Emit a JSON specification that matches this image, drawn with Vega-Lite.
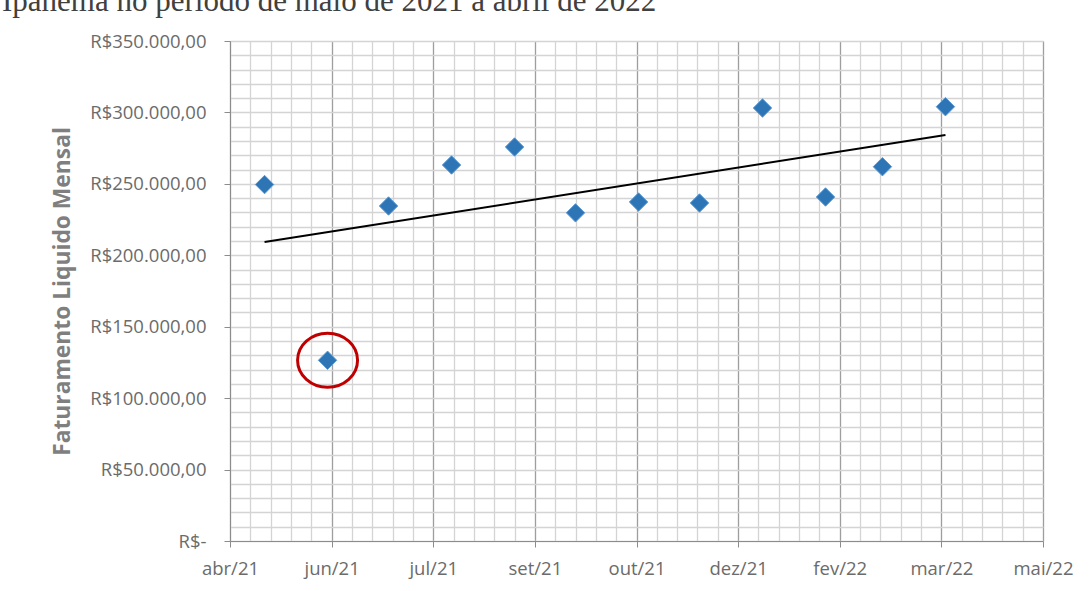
{
  "$schema": "https://vega.github.io/schema/vega-lite/v6.json",
  "width": 813,
  "height": 500,
  "autosize": {"type": "none"},
  "padding": {"left": 230, "top": 41, "right": 47, "bottom": 50},
  "background": "white",
  "title": {
    "text": "Ipanema no período de maio de 2021 a abril de 2022",
    "anchor": "start",
    "frame": "group",
    "orient": "top",
    "dx": -228,
    "offset": -10,
    "baseline": "alphabetic",
    "font": "Liberation Serif",
    "fontSize": 31,
    "fontWeight": "normal",
    "color": "#404040"
  },
  "config": {
    "view": {"stroke": null},
    "locale": {
      "number": {"decimal": ",", "thousands": ".", "grouping": [3], "currency": ["R$", ""]},
      "time": {
        "dateTime": "%A, %e de %B de %Y. %X",
        "date": "%d/%m/%Y",
        "time": "%H:%M:%S",
        "periods": ["AM", "PM"],
        "days": ["Domingo", "Segunda", "Terça", "Quarta", "Quinta", "Sexta", "Sábado"],
        "shortDays": ["Dom", "Seg", "Ter", "Qua", "Qui", "Sex", "Sáb"],
        "months": ["Janeiro", "Fevereiro", "Março", "Abril", "Maio", "Junho", "Julho", "Agosto", "Setembro", "Outubro", "Novembro", "Dezembro"],
        "shortMonths": ["jan", "fev", "mar", "abr", "mai", "jun", "jul", "ago", "set", "out", "nov", "dez"]
      }
    },
    "axis": {
      "labelFont": "Open Sans",
      "labelFontSize": 18.5,
      "labelColor": "#6b6b6b",
      "titleFont": "Open Sans",
      "domainColor": "#8c8c8c",
      "tickColor": "#8c8c8c",
      "tickSize": 6
    }
  },
  "data": {
    "values": [
      {"mes": "2021-05-01", "faturamento": 249500},
      {"mes": "2021-06-01", "faturamento": 126500},
      {"mes": "2021-07-01", "faturamento": 234500},
      {"mes": "2021-08-01", "faturamento": 263200},
      {"mes": "2021-09-01", "faturamento": 275800},
      {"mes": "2021-10-01", "faturamento": 229700},
      {"mes": "2021-11-01", "faturamento": 237300},
      {"mes": "2021-12-01", "faturamento": 236600},
      {"mes": "2022-01-01", "faturamento": 303100},
      {"mes": "2022-02-01", "faturamento": 240800},
      {"mes": "2022-03-01", "faturamento": 262000},
      {"mes": "2022-04-01", "faturamento": 304000}
    ]
  },
  "resolve": {"axis": {"x": "independent", "y": "independent"}},
  "layer": [
    {
      "mark": {"type": "point", "opacity": 0},
      "encoding": {
        "x": {
          "field": "mes", "type": "temporal",
          "scale": {"type": "utc", "domain": [1618358400000, 1652918400000]},
          "axis": {
            "orient": "bottom", "title": null, "labels": false, "ticks": false, "domain": false,
            "grid": true, "gridColor": "#d4d4d4", "gridWidth": 1.3,
            "values": [1618358400000, 1619222400000, 1620086400000, 1620950400000, 1621814400000, 1622678400000, 1623542400000, 1624406400000, 1625270400000, 1626134400000, 1626998400000, 1627862400000, 1628726400000, 1629590400000, 1630454400000, 1631318400000, 1632182400000, 1633046400000, 1633910400000, 1634774400000, 1635638400000, 1636502400000, 1637366400000, 1638230400000, 1639094400000, 1639958400000, 1640822400000, 1641686400000, 1642550400000, 1643414400000, 1644278400000, 1645142400000, 1646006400000, 1646870400000, 1647734400000, 1648598400000, 1649462400000, 1650326400000, 1651190400000, 1652054400000, 1652918400000]
          }
        },
        "y": {
          "field": "faturamento", "type": "quantitative",
          "scale": {"domain": [0, 350000], "nice": false, "zero": true},
          "axis": {
            "orient": "left", "title": null, "labels": false, "ticks": false, "domain": false,
            "grid": true, "gridColor": "#d4d4d4", "gridWidth": 1.3,
            "values": [0, 10000, 20000, 30000, 40000, 50000, 60000, 70000, 80000, 90000, 100000, 110000, 120000, 130000, 140000, 150000, 160000, 170000, 180000, 190000, 200000, 210000, 220000, 230000, 240000, 250000, 260000, 270000, 280000, 290000, 300000, 310000, 320000, 330000, 340000, 350000]
          }
        }
      }
    },
    {
      "mark": {"type": "point", "opacity": 0},
      "encoding": {
        "x": {
          "field": "mes", "type": "temporal",
          "axis": {
            "orient": "bottom", "title": null, "format": "%b/%y",
            "grid": true, "gridColor": "#9e9e9e", "gridWidth": 1.2,
            "labelPadding": 12, "labelFlush": false, "labelOverlap": false,
            "values": [1618358400000, 1622678400000, 1626998400000, 1631318400000, 1635638400000, 1639958400000, 1644278400000, 1648598400000, 1652918400000]
          }
        },
        "y": {
          "field": "faturamento", "type": "quantitative",
          "axis": {
            "orient": "left",
            "title": "Faturamento Liquido Mensal",
            "titleFontSize": 22.8, "titleFontWeight": "bold", "titleColor": "#7f7f7f",
            "titlePadding": 15,
            "format": "$,.2f",
            "labelExpr": "datum.value === 0 ? 'R$-\u00a0\u00a0' : datum.label",
            "labelPadding": 18,
            "grid": false,
            "values": [0, 50000, 100000, 150000, 200000, 250000, 300000, 350000]
          }
        }
      }
    },
    {
      "transform": [{"regression": "faturamento", "on": "mes"}],
      "mark": {"type": "line", "color": "#000000", "strokeWidth": 2},
      "encoding": {
        "x": {"field": "mes", "type": "temporal", "axis": null},
        "y": {"field": "faturamento", "type": "quantitative", "axis": null}
      }
    },
    {
      "mark": {"type": "point", "shape": "diamond", "filled": true, "size": 340, "fill": "#2e75b6", "stroke": "#5b9bd5", "strokeWidth": 1, "opacity": 1},
      "encoding": {
        "x": {"field": "mes", "type": "temporal", "axis": null},
        "y": {"field": "faturamento", "type": "quantitative", "axis": null}
      }
    },
    {
      "transform": [{"filter": "datum.faturamento < 150000"}],
      "mark": {"type": "point", "shape": "M-1,0A1,0.9,0,1,0,1,0A1,0.9,0,1,0,-1,0Z", "filled": false, "size": 3600, "stroke": "#c00000", "strokeWidth": 3, "opacity": 1},
      "encoding": {
        "x": {"field": "mes", "type": "temporal", "axis": null},
        "y": {"field": "faturamento", "type": "quantitative", "axis": null}
      }
    }
  ]
}
